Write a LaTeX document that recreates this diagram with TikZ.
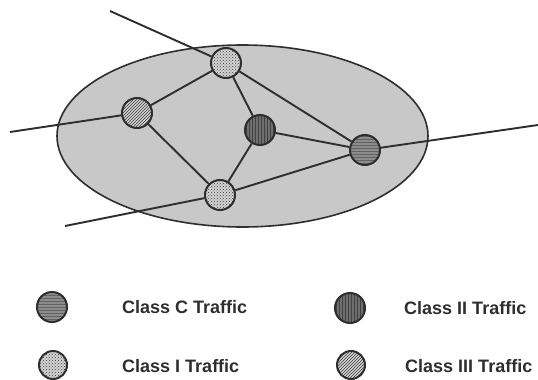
\documentclass[tikz,border=0pt]{standalone}
\usepackage{fontspec}
\setmainfont{Liberation Sans}
\usetikzlibrary{patterns}
\definecolor{inkgray}{HTML}{2E2E2E}
\definecolor{areagray}{HTML}{C8C8C8}
\definecolor{midgray}{HTML}{8C8C8C}
\definecolor{darkgray2}{HTML}{6E6E6E}
\definecolor{lightfill}{HTML}{D4D4D4}
\tikzset{
  site/.style={circle, minimum size=30pt, inner sep=0pt, draw=inkgray, line width=2pt},
  classC/.style={site, preaction={fill=midgray}, pattern=horizontal lines, pattern color=midgray!70!black},
  classI/.style={site, preaction={fill=lightfill}, pattern=crosshatch dots, pattern color=gray!45!black},
  classII/.style={site, preaction={fill=darkgray2}, pattern=vertical lines, pattern color=darkgray2!60!black},
  classIII/.style={site, preaction={fill=lightfill}, pattern=north east lines, pattern color=gray!45!black},
  link/.style={draw=inkgray, line width=1.9pt},
  legendtext/.style={anchor=west, text=inkgray, font=\fontsize{18}{20}\selectfont\bfseries, inner sep=0pt}
}
\begin{document}
\begin{tikzpicture}[x=1pt, y=-1pt]
  \useasboundingbox (0,0) rectangle (538,380);
  % network region
  \draw[fill=areagray, draw=inkgray, line width=1.6pt] (242.5,136) ellipse [x radius=185.5, y radius=91];
  % external endpoints
  \coordinate (extTop) at (110,11);
  \coordinate (extLeft) at (10,132);
  \coordinate (extRight) at (538,125);
  \coordinate (extBottom) at (65,226);
  % sites
  \node[classI]   (top)    at (226,63) {};
  \node[classIII] (left)   at (137,113) {};
  \node[classII]  (center) at (260,130) {};
  \node[classC]   (right)  at (365,150) {};
  \node[classI]   (bottom) at (220,195) {};
  % links
  \path[link] (extTop) -- (top);
  \path[link] (extLeft) -- (left);
  \path[link] (right) -- (extRight);
  \path[link] (extBottom) -- (bottom);
  \path[link] (top) -- (left);
  \path[link] (top) -- (center);
  \path[link] (top) -- (right);
  \path[link] (left) -- (bottom);
  \path[link] (center) -- (bottom);
  \path[link] (center) -- (right);
  \path[link] (bottom) -- (right);
  % legend
  \node[classC, minimum size=30pt]   (kC)   at (52,307) {};
  \node[classI, minimum size=28pt]   (kI)   at (53,365) {};
  \node[classII, minimum size=30pt]  (kII)  at (350,308) {};
  \node[classIII, minimum size=28pt] (kIII) at (351,365) {};
  \node[legendtext] (tC)   at (122,307) {Class C Traffic};
  \node[legendtext] (tI)   at (122,366) {Class I Traffic};
  \node[legendtext] (tII)  at (404,308) {Class II Traffic};
  \node[legendtext] (tIII) at (405,366) {Class III Traffic};
\end{tikzpicture}
\end{document}
